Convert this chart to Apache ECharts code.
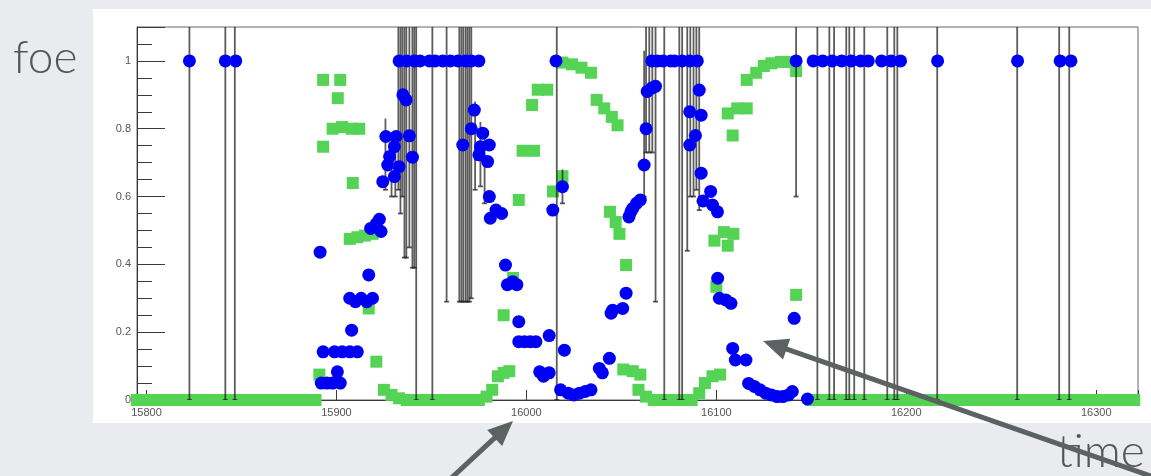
<!DOCTYPE html>
<html>
<head>
<meta charset="utf-8">
<script src="https://cdn.jsdelivr.net/npm/echarts@6/dist/echarts.min.js"></script>
<style>
  html, body { margin: 0; padding: 0; background: #e9ebee; }
  #wrap { position: relative; width: 1151px; height: 476px; overflow: hidden; }
  #plot, #notes { position: absolute; left: 0; top: 0; width: 1151px; height: 476px; }
  #plot { filter: blur(0.7px); }
</style>
</head>
<body>
<div id="wrap">
  <div id="plot"></div>
  <div id="notes"></div>
</div>
<script>
// Axis ranges and tick labels
const xRange = [15795, 16322];
const yRange = [0, 1.1];
const xTickLabels = [15800, 15900, 16000, 16100, 16200, 16300];
const yTickLabels = [0, 0.2, 0.4, 0.6, 0.8, 1];

// Measured foe values (blue)
const bluePoints = [
  [15822.6,1],[15841.5,1],[15847,1],
  [15891.4,0.436],[15892,0.05],[15893,0.142],[15895,0.05],[15898,0.05],[15899,0.142],[15900.5,0.083],
  [15902,0.05],[15903,0.142],[15907,0.142],[15908,0.206],[15911,0.142],[15907,0.30],[15910,0.29],
  [15913,0.30],[15916,0.29],[15919,0.30],[15917,0.369],[15918,0.506],[15921,0.52],[15922.6,0.533],
  [15923.5,0.497],[15924.4,0.644],[15927,0.693],[15928,0.718],[15926,0.777],[15930.5,0.659],
  [15930.5,0.747],[15931.4,0.777],[15933,0.688],[15935,0.90],[15936.7,0.885],[15938.4,0.779],[15940,0.716],
  [15933,1],[15937,1],[15941,1],[15944,1],[15949,1],[15952,1],[15956,1],[15960,1],[15964,1],[15968,1],
  [15971,1],[15975,1],
  [15966.5,0.752],[15971,0.80],[15972.6,0.855],[15975,0.723],[15975.8,0.747],[15977,0.787],[15979.6,0.703],
  [15980.5,0.752],[15980.5,0.60],[15981,0.536],[15984,0.56],[15987,0.55],[15989,0.398],[15990,0.34],
  [15992.8,0.349],[15995,0.34],[15996,0.231],[15996,0.172],[15999,0.172],[16002,0.172],[16005,0.172],
  [16007,0.083],[16009,0.07],[16012,0.19],[16012,0.08],[16013.9,0.56],[16015.6,1],[16018,0.03],
  [16019,0.629],[16020,0.147],[16022,0.02],[16025,0.015],[16028,0.02],[16031,0.025],[16034,0.03],
  [16038.4,0.093],[16040,0.08],[16043.7,0.123],[16044.6,0.256],[16045.4,0.265],[16050.7,0.27],
  [16052.5,0.315],[16054,0.54],[16055,0.555],[16056,0.565],[16058,0.58],[16060,0.59],[16062,0.693],
  [16063,0.80],[16063.6,0.91],[16066,0.92],[16068,0.925],
  [16066,1],[16069,1],[16072,1],[16076,1],[16078,1],[16082,1],[16086,1],[16090,1],
  [16086,0.752],[16086,0.85],[16089,0.78],[16091,0.914],[16092,0.84],[16092,0.669],[16093,0.587],
  [16097,0.615],[16098,0.575],[16100.6,0.555],[16100.7,0.359],[16101.6,0.30],[16105,0.295],
  [16107.7,0.285],[16108.6,0.152],[16110,0.118],[16115.6,0.118],[16117,0.049],[16120,0.04],[16123,0.03],
  [16126,0.02],[16129,0.015],[16132,0.01],[16135,0.01],[16138,0.015],[16140,0.025],[16141,0.241],
  [16142,1],[16148,0.003],
  [16151,1],[16156,1],[16161,1],[16166,1],[16171,1],[16176,1],[16180,1],[16187,1],[16192,1],[16197,1],
  [16216.5,1],[16258.6,1],[16281,1],[16286.7,1]
];

// Model foe values (green)
const greenPoints = [
  [15795,0],[15800,0],[15805,0],[15810,0],[15815,0],[15820,0],[15825,0],[15830,0],[15835,0],[15840,0],
  [15845,0],[15850,0],[15855,0],[15860,0],[15865,0],[15870,0],[15875,0],[15880,0],[15885,0],[15889,0],
  [15891,0.075],[15893,0.747],[15893,0.944],[15902,0.944],[15900.7,0.89],[15898,0.80],[15903,0.805],
  [15908,0.80],[15912,0.80],[15908.6,0.64],[15907,0.475],[15911,0.48],[15915,0.485],[15919,0.49],
  [15917,0.27],[15921,0.113],
  [15925,0.03],[15929,0.015],[15933,0.005],[15937,0],[15941,0],[15945,0],[15950,0],[15955,0],[15960,0],
  [15965,0],[15970,0],[15975,0],[15979,0.01],[15982,0.03],[15985,0.07],[15988,0.08],[15991,0.085],
  [15988,0.25],[15993,0.36],[15996,0.59],[15998,0.735],[16004,0.735],[16003,0.87],[16006,0.915],
  [16011,0.915],[16014,0.615],[16019,0.66],[16019,0.995],[16024,0.99],[16029,0.98],[16034,0.965],
  [16037,0.885],[16041,0.86],[16045,0.835],[16048,0.81],[16044,0.555],[16047,0.525],[16049,0.49],
  [16052.5,0.398],[16051,0.09],[16056,0.085],[16060,0.075],
  [16059,0.03],[16063,0.01],[16067,0],[16072,0],[16077,0],[16082,0],[16087,0],[16091,0.02],[16094,0.05],
  [16098,0.07],[16102,0.075],
  [16100,0.334],[16099,0.47],[16104,0.495],[16109,0.49],[16106,0.455],[16108.6,0.78],[16106,0.845],
  [16111,0.86],[16116,0.86],[16116,0.944],[16121,0.965],[16125,0.985],[16129,0.993],[16134,0.997],
  [16138,0.997],[16142,0.97],[16142,0.31],
  [16150,0],[16155,0],[16160,0],[16165,0],[16170,0],[16175,0],[16180,0],[16185,0],[16190,0],[16195,0],
  [16200,0],[16205,0],[16210,0],[16215,0],[16220,0],[16225,0],[16230,0],[16235,0],[16240,0],[16245,0],
  [16250,0],[16255,0],[16260,0],[16265,0],[16270,0],[16275,0],[16280,0],[16285,0],[16290,0],[16295,0],
  [16300,0],[16305,0],[16310,0],[16315,0],[16320,0]
];

// Error bars on the measured values: [time, low, high]
const errorBars = [
  [15822.6,0,1.3],[15841.5,0,1.3],[15846.5,0,1.3],
  [15925.8,0.62,0.83],[15929,0.60,0.78],[15931,0.60,0.77],
  [15932.6,0.62,1.3],[15933.7,0.55,1.3],[15934.7,0.60,1.3],[15935.8,0.42,1.3],[15936.8,0.42,1.3],
  [15938.4,0.45,1.3],[15940,0.39,1.3],[15941,0.39,1.3],[15942,0,1.3],[15950.5,0,1.3],[15958,0.29,1.3],
  [15964.7,0.29,1.3],[15965.8,0.29,1.3],[15966.8,0.29,1.3],[15968,0.29,1.3],[15969,0.29,1.3],
  [15970,0.29,1.3],[15971,0.30,1.3],[15973,0.62,0.88],[15975.8,0.63,0.82],[15978,0.58,0.79],
  [16016,0,1.3],[16019,0.58,0.68],
  [16062,0.6,1.03],[16063,0.73,1.3],[16064.7,0.73,1.3],[16066.3,0.73,1.3],[16068,0.29,1.3],
  [16072.6,0,1.3],[16080.5,0,1.3],[16082,0,1.3],[16084.7,0.44,1.3],[16086.3,0.6,1.3],[16088,0.6,1.3],
  [16089.5,0.62,1.3],[16091,0.56,1.3],
  [16142,0.6,1.3],[16153.2,0,1.3],[16159.5,0,1.3],[16162,0,1.3],[16168.4,0,1.3],[16170,0,1.3],
  [16172.6,0,1.3],[16177.9,0,1.3],[16190,0,1.3],[16193.7,0,1.3],[16195.3,0,1.3],[16216.3,0,1.3],
  [16258.4,0,1.3],[16280.5,0,1.3],[16285.8,0,1.3]
];

const axisColor = '#3a3a3a';
const labelFont = { color: '#555', fontSize: 11, fontFamily: 'Liberation Sans, Arial, sans-serif' };

function renderErrorBar(params, api) {
  const x = api.value(0), lo = api.value(1), hi = api.value(2);
  const a = api.coord([x, lo]);
  const b = api.coord([x, hi]);
  const style = { stroke: 'rgba(30,30,30,0.72)', lineWidth: 1.8 };
  return {
    type: 'group',
    children: [
      { type: 'line', shape: { x1: a[0], y1: a[1], x2: b[0], y2: b[1] }, style: style },
      { type: 'line', shape: { x1: a[0] - 2.5, y1: a[1], x2: a[0] + 2.5, y2: a[1] }, style: style }
    ]
  };
}

const plot = echarts.init(document.getElementById('plot'), null, { renderer: 'canvas' });
plot.setOption({
  animation: false,
  backgroundColor: '#e9ebee',
  graphic: [{
    type: 'rect', z: -10, silent: true,
    shape: { x: 93, y: 9, width: 1058, height: 414 },
    style: { fill: '#ffffff' }
  }],
  grid: { left: 137, right: 13, top: 27, bottom: 76, show: true, borderColor: '#666', borderWidth: 1 },
  xAxis: {
    type: 'value', min: xRange[0], max: xRange[1], splitNumber: 5,
    axisLine: { onZero: false, lineStyle: { color: axisColor, width: 1 } },
    axisTick: { inside: true, length: 10, lineStyle: { color: axisColor } },
    axisLabel: Object.assign({
      margin: 7,
      formatter: v => (xTickLabels.indexOf(Math.round(v)) >= 0 && Math.abs(v - Math.round(v)) < 1e-6) ? String(Math.round(v)) : ''
    }, labelFont),
    splitLine: { show: false }
  },
  yAxis: [{
    type: 'value', min: yRange[0], max: yRange[1], interval: 0.2, position: 'left',
    axisLine: { show: true, onZero: false, lineStyle: { color: axisColor, width: 1 } },
    axisTick: { inside: true, length: 28, lineStyle: { color: axisColor } },
    axisLabel: Object.assign({
      margin: 6,
      formatter: v => {
        const r = Math.round(v * 10) / 10;
        return yTickLabels.some(t => Math.abs(t - v) < 1e-6) ? String(r) : '';
      }
    }, labelFont),
    splitLine: { show: false }
  }, {
    type: 'value', min: yRange[0], max: yRange[1], interval: 0.05, position: 'left', offset: 0,
    axisLine: { show: false },
    axisTick: { inside: true, length: 15, lineStyle: { color: axisColor } },
    axisLabel: { show: false },
    splitLine: { show: false }
  }],
  series: [{
    name: 'model', type: 'scatter', z: 2, clip: false, silent: true,
    symbol: 'rect', symbolSize: 12,
    itemStyle: { color: '#55d355', opacity: 1 },
    data: greenPoints
  }, {
    name: 'errors', type: 'custom', z: 3, clip: true, silent: true,
    renderItem: renderErrorBar,
    encode: { x: 0, y: [1, 2] },
    data: errorBars
  }, {
    name: 'foe', type: 'scatter', z: 4, clip: false, silent: true,
    symbol: 'circle', symbolSize: 13,
    itemStyle: { color: '#0000f5', opacity: 1 },
    data: bluePoints
  }]
});

// Annotation layer: axis names and pointer arrows
function arrow(tail, tip, color) {
  const dx = tip[0] - tail[0], dy = tip[1] - tail[1];
  const len = Math.hypot(dx, dy), ux = dx / len, uy = dy / len;
  const headLen = 25, headHalf = 11;
  const base = [tip[0] - ux * headLen, tip[1] - uy * headLen];
  return [
    { type: 'line', silent: true,
      shape: { x1: tail[0], y1: tail[1], x2: base[0] + ux * 3, y2: base[1] + uy * 3 },
      style: { stroke: color, lineWidth: 5 } },
    { type: 'polygon', silent: true,
      shape: { points: [tip, [base[0] - uy * headHalf, base[1] + ux * headHalf], [base[0] + uy * headHalf, base[1] - ux * headHalf]] },
      style: { fill: color } }
  ];
}

const noteColor = '#5c6262';
const notes = echarts.init(document.getElementById('notes'), null, { renderer: 'canvas' });
notes.setOption({
  animation: false,
  backgroundColor: 'transparent',
  graphic: [
    { type: 'text', x: 13, y: 58, silent: true,
      style: { text: 'foe', fontSize: 46, fontWeight: 300, fontFamily: 'Lato, "Open Sans", sans-serif', fill: '#555', verticalAlign: 'middle', align: 'left' } },
    { type: 'text', x: 1057, y: 452, silent: true,
      style: { text: 'time', fontSize: 46, fontWeight: 300, fontFamily: 'Lato, "Open Sans", sans-serif', fill: '#555', verticalAlign: 'middle', align: 'left' } }
  ].concat(arrow([446, 483], [513, 421], noteColor))
   .concat(arrow([1165, 481], [763, 341], noteColor))
});
</script>
</body>
</html>
